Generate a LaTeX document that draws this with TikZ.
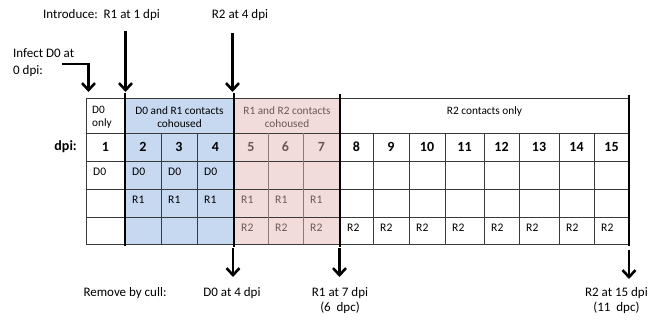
\documentclass[tikz,border=0pt]{standalone}
\usepackage{fontspec}
\setmainfont{Carlito}
\usetikzlibrary{arrows.meta}
\definecolor{cohoA}{HTML}{C6D9F1}
\definecolor{cohoB}{HTML}{F2DCDB}
\definecolor{gridc}{HTML}{3A3A3A}
\definecolor{pinktext}{HTML}{6E5757}
\definecolor{pinkgrid}{HTML}{8E7878}
\begin{document}
\begin{tikzpicture}[x=1pt,y=-1pt,
  lab/.style={font=\fontsize{13}{15}\selectfont, inner sep=0pt},
  head/.style={font=\fontsize{11.3}{13}\selectfont, inner sep=0pt, align=center},
  num/.style={font=\fontsize{14}{16}\selectfont\bfseries, inner sep=0pt},
  cell/.style={font=\fontsize{11.6}{13}\selectfont, inner sep=0pt, anchor=west},
  thinline/.style={gridc, line width=0.8pt},
  bar/.style={black, line width=2.4pt},
  arr/.style={line width=2.6pt, line join=miter, -{Straight Barb[length=7pt,width=13pt]}},
]
\useasboundingbox (0,0) rectangle (650,320);

% shaded periods of cohousing
\fill[cohoA] (125,98) rectangle (234,244);
\fill[cohoB] (234,98) rectangle (340,244);

% horizontal grid lines
\foreach \y in {98,133,161,189,217,244}
  \draw[thinline] (86,\y) -- (629,\y);
% vertical grid lines below the header row
\draw[thinline] (86,98) -- (86,244);
\foreach \x in {161,197,373,409,445,484,519,559,594}
  \draw[thinline] (\x,133) -- (\x,244);
\foreach \x in {268,303}
  \draw[pinkgrid, line width=0.8pt] (\x,133) -- (\x,244);

% period boundaries
\draw[bar] (125,93) -- (125,246);
\draw[bar] (234,93) -- (234,247);
\draw[bar] (340,94) -- (340,247);
\draw[bar] (629,95) -- (629,246);

% header row
\node[head, anchor=west, align=left] (hA) at (92,117) {D0\\only};
\node[head] (hB) at (179.5,117) {D0 and R1 contacts\\cohoused};
\node[head, text=pinktext] (hC) at (287,117) {R1 and R2 contacts\\cohoused};
\node[head] (hD) at (484.5,111) {R2 contacts only};

% day numbers
\node[num, anchor=east] (dpi) at (77,147) {dpi:};
\foreach \c/\l/\r in {1/86/125,2/125/161,3/161/197,4/197/234,
    8/340/373,9/373/409,10/409/445,11/445/484,12/484/519,13/519/559,14/559/594,15/594/629}
  \node[num] (n\c) at ({(\l+\r)/2},147) {\c};
\foreach \c/\l/\r in {5/234/268,6/268/303,7/303/340}
  \node[num, text=pinktext] (n\c) at ({(\l+\r)/2},147) {\c};

% animals present each day
\foreach \c/\l in {1/86,2/125,3/161,4/197}
  \node[cell] (d\c) at (\l+7,172) {D0};
\foreach \c/\l in {2/125,3/161,4/197}
  \node[cell] (r\c) at (\l+7,200) {R1};
\foreach \c/\l in {5/234,6/268,7/303}
  \node[cell, text=pinktext] (r\c) at (\l+7,200) {R1};
\foreach \c/\l in {5/234,6/268,7/303}
  \node[cell, text=pinktext] (s\c) at (\l+7,228) {R2};
\foreach \c/\l in {8/340,9/373,10/409,11/445,12/484,13/519,14/559,15/594}
  \node[cell] (s\c) at (\l+7,228) {R2};

% introduction events
\node[lab, anchor=west] (intro) at (43,15) {Introduce:\ \ R1 at 1 dpi};
\node[lab] (introB) at (240,15) {R2 at 4 dpi};
\node[lab, anchor=west] (infA) at (13,53) {Infect D0 at};
\node[lab, anchor=west] (infB) at (13,71) {0 dpi:};

\coordinate (i0a) at (62,64);
\coordinate (i0b) at (88.5,64);
\coordinate (i0c) at (88.5,92);
\draw[arr] (i0a) -- (i0b) -- (i0c);
\coordinate (i1a) at (125.5,31);
\coordinate (i1b) at (125.5,92);
\draw[arr] (i1a) -- (i1b);
\coordinate (i2a) at (232.5,33);
\coordinate (i2b) at (232.5,92);
\draw[arr] (i2a) -- (i2b);

% removal events
\coordinate (c1a) at (233,248);
\coordinate (c1b) at (233,277);
\draw[arr] (c1a) -- (c1b);
\coordinate (c2a) at (339.5,248);
\coordinate (c2b) at (339.5,277);
\draw[arr] (c2a) -- (c2b);
\coordinate (c3a) at (629,250);
\coordinate (c3b) at (629,279);
\draw[arr] (c3a) -- (c3b);

\node[lab] (cull) at (125,293) {Remove by cull:};
\node[lab] (cullA) at (232,293) {D0 at 4 dpi};
\node[lab, align=center] (cullB) at (340,301) {R1 at 7 dpi\\(6\ \ dpc)};
\node[lab, align=center, anchor=east] (cullC) at (648,301) {R2 at 15 dpi\\(11\ \ dpc)};
\end{tikzpicture}
\end{document}
